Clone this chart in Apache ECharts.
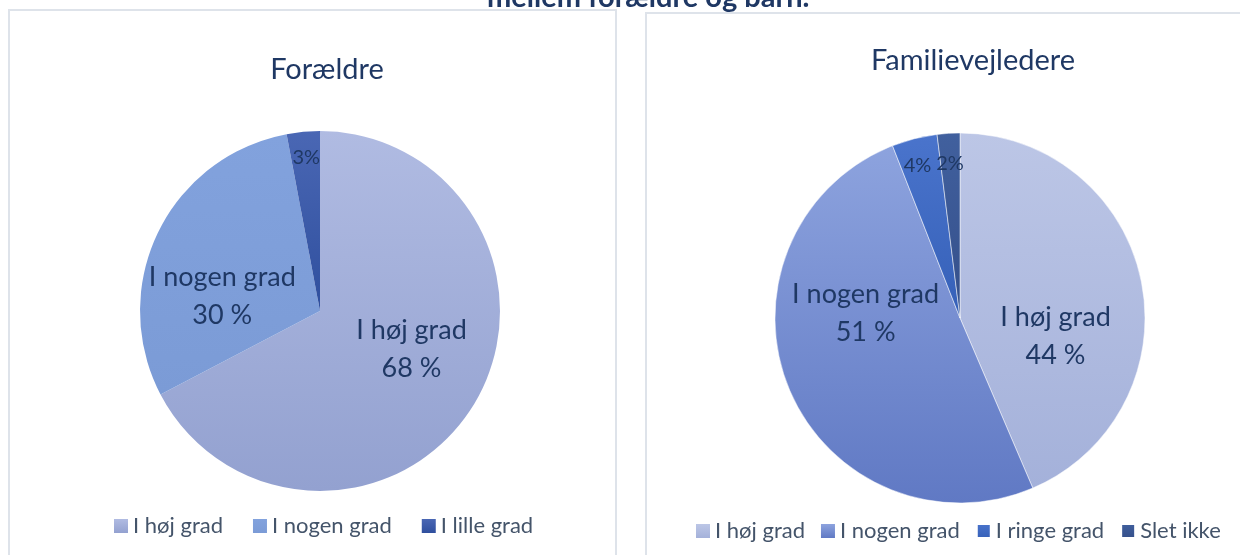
<!DOCTYPE html>
<html>
<head>
<meta charset="utf-8">
<script src="https://cdn.jsdelivr.net/npm/echarts@6/dist/echarts.min.js"></script>
<style>
html,body{margin:0;padding:0;background:#fff;}
#c{width:1240px;height:555px;}
</style>
</head>
<body>
<div id="c"></div>
<script>
const mainTitle = "mellem forældre og barn.";
const leftTitle = "Forældre";
const leftCategories = ["I høj grad", "I nogen grad", "I lille grad"];
const leftValues = [68, 30, 3];
const rightTitle = "Familievejledere";
const rightCategories = ["I høj grad", "I nogen grad", "I ringe grad", "Slet ikke"];
const rightValues = [44, 51, 4, 2];

const FONT = "Lato, 'Open Sans', sans-serif";
const TXT = "#1f3864";
function grad(a, b) {
  return new echarts.graphic.LinearGradient(0, 0, 0, 1, [{offset: 0, color: a}, {offset: 1, color: b}]);
}
const leftColors = [grad('#b0bbe2', '#93a1d0'), grad('#82a2dd', '#7b9bd6'), grad('#4a67b4', '#2f4f9e')];
const rightColors = [grad('#bcc6e6', '#a4b1da'), grad('#8da3de', '#6079c4'), grad('#4a74cc', '#3560b8'), grad('#41609e', '#344f8a')];
const leftOffsets = [[12, -10], [-14, 26], [-5, -61]];
const rightOffsets = [[2, 37], [-6, -41], [-19, -60], [-4, -59]];
const leftBig = [true, true, false];
const rightBig = [true, true, false, false];

function buildData(cats, vals, colors, offsets, big) {
  return cats.map((c, i) => ({
    name: c,
    value: vals[i],
    itemStyle: {color: colors[i]},
    label: big[i] ? {
      formatter: c + "\n" + vals[i] + " %",
      fontSize: 27, lineHeight: 38, offset: offsets[i]
    } : {
      formatter: vals[i] + "%",
      fontSize: 20, offset: offsets[i]
    }
  }));
}

const chart = echarts.init(document.getElementById('c'), null, {renderer: 'canvas'});
const legendText = {color: '#44546a', fontSize: 22, fontFamily: FONT};
chart.setOption({
  backgroundColor: '#fff',
  animation: false,
  graphic: [
    {type: 'rect', shape: {x: 9, y: 10, width: 607, height: 560}, style: {fill: 'none', stroke: '#dee3ea', lineWidth: 2}, z: -1},
    {type: 'rect', shape: {x: 646, y: 13, width: 620, height: 560}, style: {fill: 'none', stroke: '#dee3ea', lineWidth: 2}, z: -1},
    {type: 'text', left: 487, top: -17, style: {text: mainTitle, font: "bold 29px " + FONT, fill: '#1f3864'}, z: 10}
  ],
  title: [
    {text: leftTitle, left: 322, top: 50, textAlign: 'center', textStyle: {fontSize: 29, fontWeight: 'normal', color: TXT, fontFamily: FONT}},
    {text: rightTitle, left: 968, top: 41, textAlign: 'center', textStyle: {fontSize: 29, fontWeight: 'normal', color: TXT, fontFamily: FONT}}
  ],
  legend: [
    {data: leftCategories, left: 109, top: 510, itemWidth: 14, itemHeight: 14, itemGap: 30, icon: 'rect', textStyle: legendText, seriesIndex: 0},
    {data: rightCategories.map((c, i) => ({name: c, itemStyle: {color: rightColors[i]}})), left: 691, top: 515, itemWidth: 14, itemHeight: 14, itemGap: 16, icon: 'rect', textStyle: legendText}
  ],
  series: [
    {
      type: 'pie', center: [320, 311], radius: [0, 180], startAngle: 90, clockwise: true,
      label: {show: true, position: 'inside', color: TXT, fontFamily: FONT},
      labelLine: {show: false},
      itemStyle: {borderColor: '#fff', borderWidth: 0},
      emphasis: {disabled: true},
      data: buildData(leftCategories, leftValues, leftColors, leftOffsets, leftBig)
    },
    {
      type: 'pie', center: [960, 318], radius: [0, 185], startAngle: 90, clockwise: true,
      label: {show: true, position: 'inside', color: TXT, fontFamily: FONT},
      labelLine: {show: false},
      itemStyle: {borderColor: '#fff', borderWidth: 0.5},
      emphasis: {disabled: true},
      data: buildData(rightCategories, rightValues, rightColors, rightOffsets, rightBig)
    }
  ]
});
</script>
</body>
</html>
